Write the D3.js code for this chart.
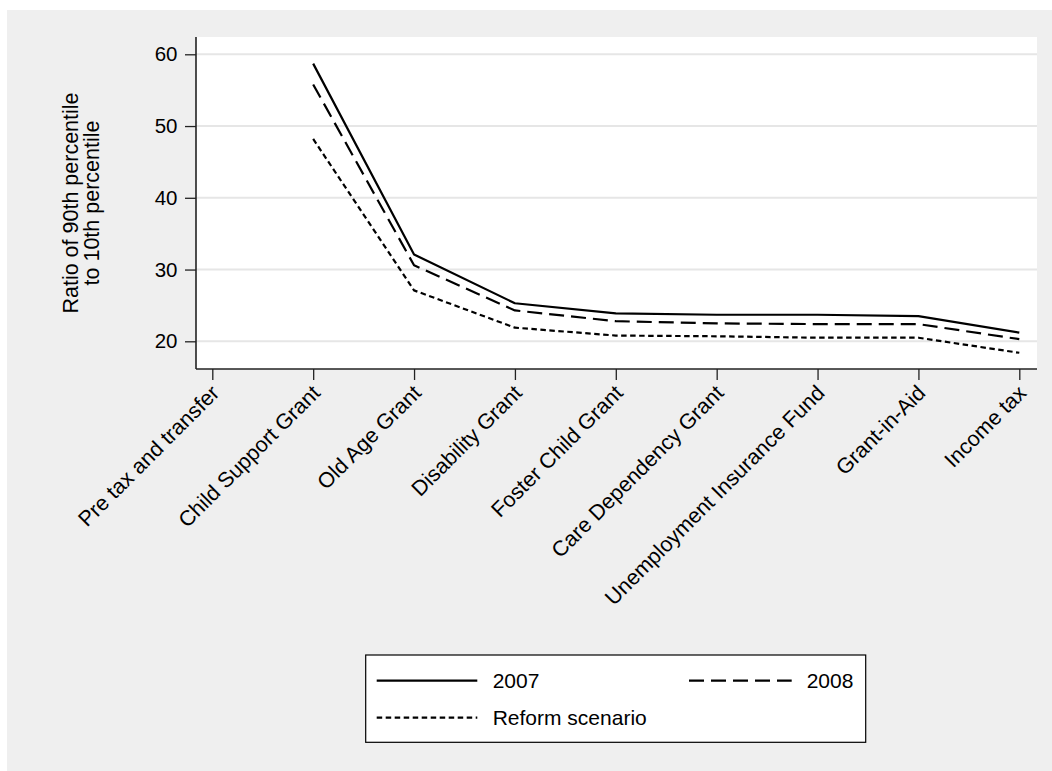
<!DOCTYPE html>
<html>
<head>
<meta charset="utf-8">
<script src="https://cdn.jsdelivr.net/npm/d3@7"></script>
<style>
  body { margin: 0; background: #ffffff; }
  text { font-family: Arial, "Liberation Sans", sans-serif; fill: #000; }
</style>
</head>
<body>
<svg id="chart" width="1052" height="771"></svg>
<script>
// Inequality ratio (P90/P10) after each successive tax/transfer step
const categories = [
  "Pre tax and transfer",
  "Child Support Grant",
  "Old Age Grant",
  "Disability Grant",
  "Foster Child Grant",
  "Care Dependency Grant",
  "Unemployment Insurance Fund",
  "Grant-in-Aid",
  "Income tax"
];
const values2007   = [null, 58.7, 32.1, 25.3, 23.9, 23.7, 23.7, 23.5, 21.2];
const values2008   = [null, 55.8, 30.6, 24.3, 22.8, 22.5, 22.4, 22.4, 20.3];
const valuesReform = [null, 48.2, 27.1, 21.9, 20.8, 20.7, 20.5, 20.5, 18.4];
const yTicks = [20, 30, 40, 50, 60];
const seriesNames = ["2007", "2008", "Reform scenario"];
const yTitleLines = ["Ratio of 90th percentile", "to 10th percentile"];

const svg = d3.select("#chart");
const W = 1052, H = 771;

// outer background
svg.append("rect").attr("x", 7).attr("y", 10).attr("width", W - 7).attr("height", H - 10)
  .attr("fill", "#efefef");

const plot = { left: 196, right: 1037, top: 37, bottom: 369 };

svg.append("rect")
  .attr("x", plot.left).attr("y", plot.top)
  .attr("width", plot.right - plot.left).attr("height", plot.bottom - plot.top)
  .attr("fill", "#ffffff");

const x = d3.scalePoint().domain(categories).range([212.3, 1019.3]);
const y = d3.scaleLinear().domain([16.14, 62.41]).range([plot.bottom, plot.top]);

// horizontal grid
svg.append("g").selectAll("line").data(yTicks).join("line")
  .attr("x1", plot.left).attr("x2", plot.right)
  .attr("y1", d => y(d)).attr("y2", d => y(d))
  .attr("stroke", "#e6e6e6").attr("stroke-width", 2);

// series lines
const lineGen = d3.line()
  .defined(d => d.v != null)
  .x(d => x(d.c))
  .y(d => y(d.v));

const series = [
  { name: seriesNames[0], values: values2007,   dash: null,      width: 2.2 },
  { name: seriesNames[1], values: values2008,   dash: "15,7",    width: 2.2 },
  { name: seriesNames[2], values: valuesReform, dash: "5.5,3.5", width: 2.2 }
];

svg.append("g").selectAll("path").data(series).join("path")
  .attr("d", s => lineGen(s.values.map((v, i) => ({ c: categories[i], v }))))
  .attr("fill", "none")
  .attr("stroke", "#000")
  .attr("stroke-width", s => s.width)
  .attr("stroke-dasharray", s => s.dash)
  .attr("stroke-linejoin", "round");

// y axis
const yAxis = svg.append("g")
  .attr("transform", `translate(${plot.left},0)`)
  .call(d3.axisLeft(y).tickValues(yTicks).tickSize(11).tickPadding(7.5).tickSizeOuter(0));
yAxis.select(".domain").attr("stroke", "#222").attr("stroke-width", 1.6)
  .attr("d", `M0,${plot.top}V${plot.bottom}`);
yAxis.selectAll(".tick line").attr("stroke", "#222").attr("stroke-width", 1.3);
yAxis.selectAll(".tick text").style("font-size", "20.5px").attr("fill", "#000")
  .style("font-family", "Arial, 'Liberation Sans', sans-serif");

// x axis
const xAxis = svg.append("g")
  .attr("transform", `translate(0,${plot.bottom})`)
  .call(d3.axisBottom(x).tickSize(11).tickSizeOuter(0).tickFormat(""));
xAxis.select(".domain").attr("stroke", "#222").attr("stroke-width", 1.6)
  .attr("d", `M${plot.left},0H${plot.right}`);
xAxis.selectAll(".tick line").attr("stroke", "#222").attr("stroke-width", 1.3);

// rotated category labels
svg.append("g").selectAll("text").data(categories).join("text")
  .attr("transform", d => `translate(${x(d) + 3},${plot.bottom + 20}) rotate(-45)`)
  .attr("text-anchor", "end")
  .attr("dy", "0.35em")
  .style("font-size", "21.5px")
  .text(d => d);

// y axis title
svg.append("g").attr("transform", `translate(0,${(plot.top + plot.bottom) / 2})`)
  .selectAll("text").data(yTitleLines).join("text")
  .attr("transform", (d, i) => `translate(${78 + i * 21},0) rotate(-90)`)
  .attr("text-anchor", "middle")
  .style("font-size", "21.5px")
  .text(d => d);

// legend
const legend = svg.append("g");
legend.append("rect")
  .attr("x", 365.7).attr("y", 655).attr("width", 500).attr("height", 87.3)
  .attr("fill", "#fff").attr("stroke", "#000").attr("stroke-width", 1.2);

const legendItems = [
  { s: series[0], x1: 376.7, x2: 477.3, tx: 492.7, ly: 680.7 },
  { s: series[1], x1: 689,   x2: 791.7, tx: 806.7, ly: 680.7 },
  { s: series[2], x1: 376.7, x2: 477.3, tx: 492.7, ly: 717.7 }
];
const li = legend.selectAll("g.item").data(legendItems).join("g").attr("class", "item");
li.append("line")
  .attr("x1", d => d.x1).attr("x2", d => d.x2)
  .attr("y1", d => d.ly).attr("y2", d => d.ly)
  .attr("stroke", "#000").attr("stroke-width", d => d.s.width)
  .attr("stroke-dasharray", d => d.s.dash);
li.append("text")
  .attr("x", d => d.tx).attr("y", d => d.ly)
  .attr("dy", "0.35em")
  .style("font-size", "21px")
  .text(d => d.s.name);
</script>
</body>
</html>
